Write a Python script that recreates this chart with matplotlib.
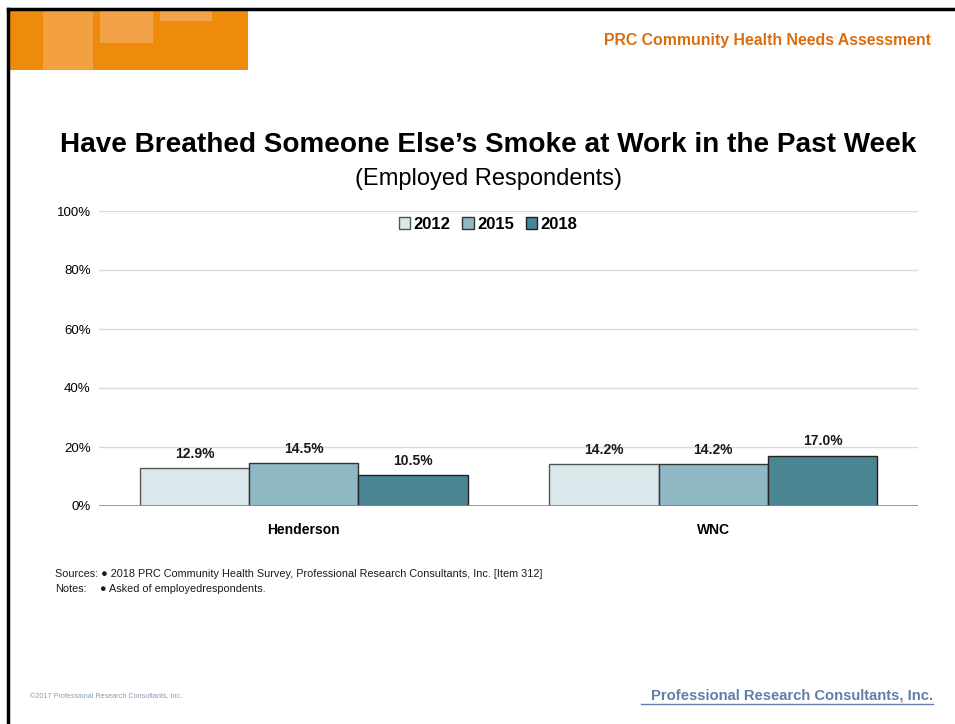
import matplotlib
matplotlib.use("Agg")
import matplotlib.pyplot as plt
from matplotlib.patches import Rectangle
from matplotlib.lines import Line2D
import numpy as np

plt.rcParams['font.family'] = ['Liberation Sans', 'DejaVu Sans']

categories = ["Henderson", "WNC"]
years = ["2012", "2015", "2018"]
values_2012 = [12.9, 14.2]
values_2015 = [14.5, 14.2]
values_2018 = [10.5, 17.0]
yticks = [0, 20, 40, 60, 80, 100]
ytick_labels = ["0%", "20%", "40%", "60%", "80%", "100%"]

colors = ["#DAE7EB", "#8FB7C4", "#4A8594"]
edges = ["#555555", "#333333", "#222222"]

W, H = 955, 724
fig = plt.figure(figsize=(W / 100, H / 100), dpi=100)

# page frame
fig.add_artist(Line2D([8 / W, 1], [1 - 9 / H, 1 - 9 / H], color="black", lw=2.5, transform=fig.transFigure))
fig.add_artist(Line2D([8 / W, 8 / W], [0, 1 - 9 / H], color="black", lw=2.5, transform=fig.transFigure))

# orange banner
def rect(x0, y0, x1, y1, c):
    fig.add_artist(Rectangle((x0 / W, 1 - y1 / H), (x1 - x0) / W, (y1 - y0) / H,
                             facecolor=c, edgecolor="none", transform=fig.transFigure))
rect(10, 10, 248, 70, "#EE8A0C")
rect(43, 10, 93, 70, "#F3A043")
rect(100, 10, 153, 43, "#F3A247")
rect(160, 10, 212, 21, "#F3A247")

fig.text(931 / W, 1 - 41 / H, "PRC Community Health Needs Assessment", ha="right", va="center",
         fontsize=11.4, fontweight="bold", color="#D96E10")

fig.text(488 / W, 1 - 145 / H, "Have Breathed Someone Else\u2019s Smoke at Work in the Past Week",
         ha="center", va="center", fontsize=20.1, fontweight="bold", color="black")
fig.text(488 / W, 1 - 179 / H, "(Employed Respondents)", ha="center", va="center",
         fontsize=17, color="black")

ax = fig.add_axes([99 / W, 218 / H, 819 / W, 295 / H])
x = np.arange(len(categories))
bw = 0.8 / 3
series = [values_2012, values_2015, values_2018]
for i, (vals, yr) in enumerate(zip(series, years)):
    pos = x + (i - 1) * bw
    ax.bar(pos, vals, width=bw, color=colors[i], edgecolor=edges[i], linewidth=1.0,
           label=yr, zorder=3)
    for p, v in zip(pos, vals):
        ax.text(p, v + 2.5, f"{v:.1f}%", ha="center", va="bottom", fontsize=10,
                fontweight="bold", color="#1a1a1a")

ax.set_xlim(-0.5, 1.5)
ax.set_ylim(0, 100)
ax.set_yticks(yticks)
ax.set_yticklabels(ytick_labels, fontsize=9.5)
ax.set_xticks(x)
ax.set_xticklabels(categories, fontsize=10, fontweight="bold")
ax.tick_params(axis="both", length=0)
ax.tick_params(axis="y", pad=6)
ax.tick_params(axis="x", pad=12)
ax.grid(axis="y", color="#D9D9D9", linewidth=1.0, zorder=0)
ax.axhline(0, color="#888888", linewidth=1.2, zorder=4)
for s in ax.spines.values():
    s.set_visible(False)

leg = ax.legend(loc="upper center", bbox_to_anchor=(0.475, 1.02), ncol=3, frameon=False,
                prop={"weight": "bold", "size": 12}, handlelength=0.7, handleheight=0.7,
                handletextpad=0.2, columnspacing=0.7, borderaxespad=0.3)

narrow = ["Liberation Sans Narrow", "Liberation Sans", "DejaVu Sans"]
fig.text(55 / W, 1 - 574 / H,
         "Sources: \u25cf 2018 PRC Community Health Survey, Professional Research Consultants, Inc. [Item 312]",
         ha="left", va="center", fontsize=7.8, color="#1a1a1a", family=narrow)
fig.text(55 / W, 1 - 589 / H, "Notes:", ha="left", va="center", fontsize=7.8, color="#1a1a1a",
         family=narrow)
fig.text(100 / W, 1 - 589 / H, "\u25cf Asked of employedrespondents.", ha="left", va="center",
         fontsize=7.8, color="#1a1a1a", family=narrow)

fig.text(30 / W, 1 - 697 / H, "\u00a92017 Professional Research Consultants, Inc.", ha="left",
         va="center", fontsize=5.2, color="#8A9BB0", family=narrow)
fig.text(933 / W, 1 - 696 / H, "Professional Research Consultants, Inc.", ha="right",
         va="center", fontsize=10.6, fontweight="bold", color="#5F7FA8")
fig.add_artist(Line2D([641 / W, 933 / W], [1 - 704 / H, 1 - 704 / H], color="#5F7FA8", lw=1,
                      transform=fig.transFigure))

fig.savefig("out.png", dpi=100)
